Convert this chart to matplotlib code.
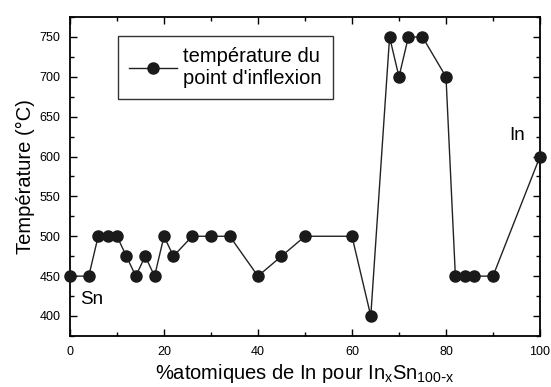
import matplotlib.pyplot as plt
from matplotlib.ticker import MultipleLocator

plt.rcParams['font.family'] = ['Liberation Sans', 'DejaVu Sans']

composition = [0, 4, 6, 8, 10, 12, 14, 16, 18, 20, 22, 26, 30, 34, 40, 45, 50,
               60, 64, 68, 70, 72, 75, 80, 82, 84, 86, 90, 100]
temperature = [450, 450, 500, 500, 500, 475, 450, 475, 450, 500, 475, 500, 500,
               500, 450, 475, 500, 500, 400, 750, 700, 750, 750, 700, 450, 450,
               450, 450, 600]

fig = plt.figure(figsize=(5.51, 3.87), dpi=100)
ax = fig.add_axes([0.127, 0.132, 0.853, 0.824])

ax.plot(composition, temperature, color='#222222', lw=1.0, marker='o',
        markersize=8, markerfacecolor='#1a1a1a', markeredgecolor='#1a1a1a',
        label="température du\npoint d'inflexion", clip_on=False, zorder=3)

ax.set_xlim(0, 100)
ax.set_ylim(375, 775)
ax.xaxis.set_major_locator(MultipleLocator(20))
ax.xaxis.set_minor_locator(MultipleLocator(10))
ax.yaxis.set_major_locator(MultipleLocator(50))
ax.yaxis.set_minor_locator(MultipleLocator(25))
ax.tick_params(which='both', direction='in', top=True, right=True,
               labelsize=9, width=1.0)
ax.tick_params(which='major', length=5, pad=7)
ax.tick_params(which='minor', length=3)
for s in ax.spines.values():
    s.set_linewidth(1.3)

ax.set_xlabel(r"%atomiques de In pour In$_\mathregular{x}$Sn$_\mathregular{100\text{-}x}$",
              fontsize=14.5, labelpad=3)
ax.set_ylabel("Température (°C)", fontsize=14.5, labelpad=3)

ax.text(2.2, 421, "Sn", fontsize=13.5, ha='left', va='center')
ax.text(96.8, 626, "In", fontsize=13.5, ha='right', va='center')

leg = ax.legend(loc='upper left', bbox_to_anchor=(0.102, 0.94), fontsize=14.5,
                handlelength=2.4, handletextpad=0.3, borderpad=0.55,
                borderaxespad=0, labelspacing=0.3,
                fancybox=False, framealpha=1, edgecolor='#333333')
leg.get_frame().set_linewidth(1.0)
for t in leg.get_texts():
    t.set_linespacing(1.2)

plt.savefig('out.png', dpi=100)
